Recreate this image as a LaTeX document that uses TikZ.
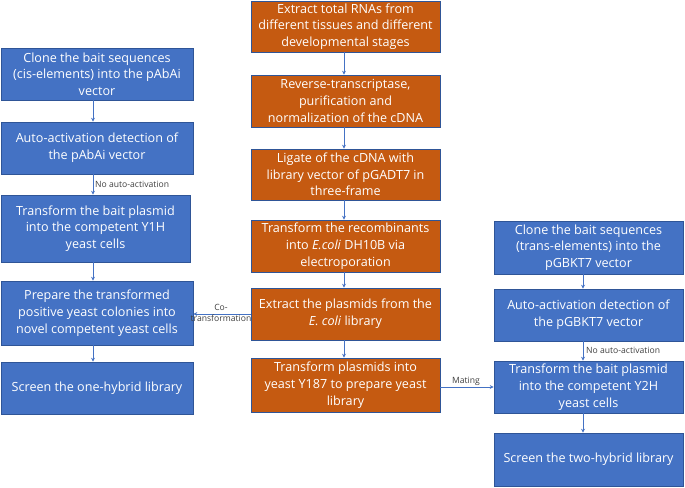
\documentclass[tikz,border=0pt]{standalone}
\usepackage{fontspec}
\setmainfont{Open Sans}
\usetikzlibrary{arrows.meta}
\definecolor{boxblue}{HTML}{4472C4}
\definecolor{boxorange}{HTML}{C55A11}
\definecolor{edgeblue}{HTML}{2F5597}
\definecolor{lineblue}{HTML}{4472C4}
\definecolor{labelgray}{HTML}{404040}
\tikzset{
  base/.style={draw=edgeblue, line width=0.6pt, text=white, align=center,
    inner sep=1pt, font=\fontsize{12.6}{16.7}\selectfont},
  bluebox/.style={base, fill=boxblue},
  orangebox/.style={base, fill=boxorange},
  conn/.style={draw=lineblue, line width=0.9pt, -{Stealth[length=4pt,width=4pt]}},
  small/.style={font=\fontsize{8.6}{10}\selectfont, text=labelgray, inner sep=1pt}
}
\begin{document}
\begin{tikzpicture}[x=1pt,y=-1pt]
\useasboundingbox (0,0) rectangle (685,487);
% left column
\node[bluebox, minimum width=192pt, minimum height=52pt] (l1) at (97,74) {Clone the bait sequences\\(cis-elements) into the pAbAi\\vector};
\node[bluebox, minimum width=192pt, minimum height=52pt] (l2) at (97,148) {Auto-activation detection of\\the pAbAi vector};
\node[bluebox, minimum width=189pt, minimum height=67pt] (l3) at (95.5,228.5) {Transform the bait plasmid\\into the competent Y1H\\yeast cells};
\node[bluebox, minimum width=192pt, minimum height=64pt] (l4) at (97,313) {Prepare the transformed\\positive yeast colonies into\\novel competent yeast cells};
\node[bluebox, minimum width=192pt, minimum height=52pt] (l5) at (97,388) {Screen the one-hybrid library};
% middle column
\node[orangebox, minimum width=189pt, minimum height=51pt] (m1) at (345.5,26.5) {Extract total RNAs from\\different tissues and different\\developmental stages};
\node[orangebox, minimum width=189pt, minimum height=52pt] (m2) at (345.5,101) {Reverse-transcriptase,\\purification and\\normalization of the cDNA};
\node[orangebox, minimum width=189pt, minimum height=51pt] (m3) at (345.5,174.5) {Ligate of the cDNA with\\library vector of pGADT7 in\\three-frame};
\node[orangebox, minimum width=189pt, minimum height=52pt] (m4) at (345.5,246) {Transform the recombinants\\into \textit{E.coli} DH10B via\\electroporation};
\node[orangebox, minimum width=189pt, minimum height=52pt] (m5) at (345.5,314) {Extract the plasmids from the\\\textit{E. coli} library};
\node[orangebox, minimum width=189pt, minimum height=54pt] (m6) at (345.5,385) {Transform plasmids into\\yeast Y187 to prepare yeast\\library};
% right column
\node[bluebox, minimum width=189pt, minimum height=53pt] (r1) at (588.5,247.5) {Clone the bait sequences\\(trans-elements) into the\\pGBKT7 vector};
\node[bluebox, minimum width=189pt, minimum height=52pt] (r2) at (588.5,315) {Auto-activation detection of\\the pGBKT7 vector};
\node[bluebox, minimum width=189pt, minimum height=52pt] (r3) at (588.5,387) {Transform the bait plasmid\\into the competent Y2H\\yeast cells};
\node[bluebox, minimum width=189pt, minimum height=53pt] (r4) at (588.5,459.5) {Screen the two-hybrid library};
% vertical connectors
\draw[conn] (l1.south -| 93,0) -- (l2.north -| 93,0);
\draw[conn] (l2.south -| 93,0) -- (l3.north -| 93,0);
\draw[conn] (l3.south -| 93,0) -- (l4.north -| 93,0);
\draw[conn] (l4.south -| 93,0) -- (l5.north -| 93,0);
\draw[conn] (m1.south -| 344,0) -- (m2.north -| 344,0);
\draw[conn] (m2.south -| 344,0) -- (m3.north -| 344,0);
\draw[conn] (m3.south -| 344,0) -- (m4.north -| 344,0);
\draw[conn] (m4.south -| 344,0) -- (m5.north -| 344,0);
\draw[conn] (m5.south -| 344,0) -- (m6.north -| 344,0);
\draw[conn] (r1.south -| 583,0) -- (r2.north -| 583,0);
\draw[conn] (r2.south -| 583,0) -- (r3.north -| 583,0);
\draw[conn] (r3.south -| 583,0) -- (r4.north -| 583,0);
% labels on vertical connectors
\node[small, anchor=west] (lab1) at (94,184) {No auto-activation};
\node[small, anchor=west] (lab2) at (585,350) {No auto-activation};
% horizontal connectors
\draw[conn] (m5.west) -- (m5.west -| l4.east);
\node[small, align=center, font=\fontsize{8.6}{10.5}\selectfont] (lab3) at (221,313) {Co-\\transformation};
\draw[conn] (m6.east |- 0,387) -- (r3.west);
\node[small] (lab4) at (466,381) {Mating};
\end{tikzpicture}
\end{document}
